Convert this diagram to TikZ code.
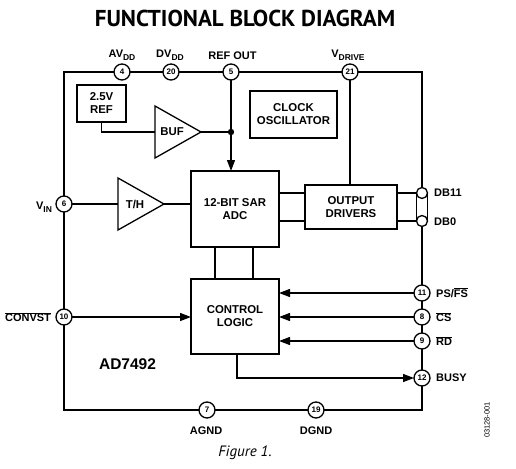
\documentclass[tikz,border=0pt]{standalone}
\usepackage{fontspec}
\setmainfont{Liberation Sans}
\newfontfamily\titlefont{PT Sans}
\usetikzlibrary{arrows.meta,calc}
\begin{document}
\begin{tikzpicture}[x=1pt,y=-1pt,
  ln/.style={line width=1.3pt},
  pin/.style={circle,draw,line width=1.3pt,fill=white,minimum size=16pt,inner sep=0pt,outer sep=0pt,font=\bfseries\fontsize{8}{8}\selectfont},
  buspin/.style={circle,draw,line width=1.3pt,fill=white,minimum size=11pt,inner sep=0pt,outer sep=0pt},
  blk/.style={draw,line width=1.3pt,align=center,inner sep=0pt,outer sep=0pt,font=\bfseries\fontsize{11.4}{13}\selectfont},
  lbl/.style={inner sep=0pt,font=\bfseries\fontsize{11}{12}\selectfont},
  arr/.style={ln,-{Triangle[length=11pt,width=8pt]}}
]
\useasboundingbox (0,0) rectangle (516,468);
% title
\node[inner sep=0pt,font=\titlefont\bfseries\fontsize{23}{26}\selectfont] (title) at (245,18) {FUNCTIONAL BLOCK DIAGRAM};
% frame
\draw[ln] (64,72) rectangle (422,410);
\fill[white] (416.5,193) rectangle (427.5,221);
% blocks
\node[blk,minimum width=49pt,minimum height=37pt] (ref) at (101.5,103.5) {2.5V\\REF};
\node[blk,minimum width=88pt,minimum height=76pt] (adc) at (235,209) {12-BIT SAR\\ADC};
\node[blk,minimum width=92pt,minimum height=44pt] (drv) at (351,207) {OUTPUT\\DRIVERS};
\node[blk,minimum width=88pt,minimum height=75pt] (ctl) at (235,316.5) {CONTROL\\LOGIC};
\node[blk,minimum width=87pt,minimum height=47pt] (clk) at (293.5,114.5) {CLOCK\\OSCILLATOR};
% amplifiers
\coordinate (bufin) at (155,132);
\coordinate (bufout) at (201,132);
\draw[ln,line join=miter] (155,106) -- (bufout) -- (155,158) -- cycle;
\node[lbl,font=\bfseries\fontsize{11.4}{13}\selectfont] (buftxt) at (172,132) {BUF};
\coordinate (thin) at (118,204);
\coordinate (thout) at (164,204);
\draw[ln,line join=miter] (118,178) -- (thout) -- (118,230) -- cycle;
\node[lbl,font=\bfseries\fontsize{11.4}{13}\selectfont] (thtxt) at (135,204) {T/H};
% pins
\node[pin] (p4) at (122,72) {4};
\node[pin] (p20) at (171,72) {20};
\node[pin] (p5) at (231,72) {5};
\node[pin] (p21) at (350,72) {21};
\node[pin] (p6) at (64,204) {6};
\node[pin] (p10) at (64,317) {10};
\node[pin] (p7) at (207,410) {7};
\node[pin] (p19) at (316,410) {19};
\node[pin] (p11) at (422,293) {11};
\node[pin] (p8) at (422,317) {8};
\node[pin] (p9) at (422,341) {9};
\node[pin] (p12) at (422,378) {12};
\node[buspin] (db11) at (422,193) {};
\node[buspin] (db0) at (422,221) {};
\draw[ln] (db11.west) -- (db0.west);
\draw[ln] (db11.east) -- (db0.east);
% connections
\draw[ln] (ref.south) |- (bufin);
\coordinate (j) at (p5.south |- bufout);
\draw[ln] (bufout) -- (j);
\fill (j) circle (3.2);
\draw[arr] (p5.south) -- (p5.south |- adc.north);
\draw[ln] (p6.east) -- (thin);
\draw[ln] (thout) -- (adc.west |- thout);
\draw[ln] (p21.south) -- (p21.south |- drv.north);
\draw[ln] (adc.east |- db11) -- (drv.west |- db11);
\draw[ln] (adc.east |- db0) -- (drv.west |- db0);
\draw[ln] (drv.east |- db11) -- (db11.west);
\draw[ln] (drv.east |- db0) -- (db0.west);
\draw[ln] ($(adc.south)+(-20,0)$) -- ($(ctl.north)+(-20,0)$);
\draw[ln] ($(adc.south)+(18,0)$) -- ($(ctl.north)+(18,0)$);
\draw[arr] (p10.east) -- (ctl.west |- p10);
\draw[arr] (p11.west) -- (ctl.east |- p11);
\draw[arr] (p8.west) -- (ctl.east |- p8);
\draw[arr] (p9.west) -- (ctl.east |- p9);
\draw[arr] ($(ctl.south)+(2,0)$) |- (p12.west);
% labels
\node[lbl] (lav) at (122,55) {AV\raisebox{-2.5pt}{\fontsize{8.5}{9}\selectfont DD}};
\node[lbl] (ldv) at (170,55) {DV\raisebox{-2.5pt}{\fontsize{8.5}{9}\selectfont DD}};
\node[lbl] (lref) at (232.5,55.5) {REF OUT};
\node[lbl] (lvd) at (348,55) {V\raisebox{-2.5pt}{\fontsize{8.5}{9}\selectfont DRIVE}};
\node[lbl] (lvin) at (44,207) {V\raisebox{-2.5pt}{\fontsize{8.5}{9}\selectfont IN}};
\node[lbl] (lconv) at (28,317) {$\overline{\mbox{CONVST}}$};
\node[lbl,anchor=west] (ldb11) at (434,193) {DB11};
\node[lbl,anchor=west] (ldb0) at (434,222) {DB0};
\node[lbl,anchor=west] (lps) at (436,293) {PS/$\overline{\mbox{FS}}$};
\node[lbl,anchor=west] (lcs) at (436,317) {$\overline{\mbox{CS}}$};
\node[lbl,anchor=west] (lrd) at (436,341) {$\overline{\mbox{RD}}$};
\node[lbl,anchor=west] (lbusy) at (436,378) {BUSY};
\node[lbl] (lagnd) at (206,431) {AGND};
\node[lbl] (ldgnd) at (316,431) {DGND};
\node[inner sep=0pt,font=\bfseries\fontsize{15.5}{17}\selectfont] (part) at (127.5,364) {AD7492};
\node[inner sep=0pt,font=\titlefont\itshape\fontsize{15}{17}\selectfont] (fig) at (245,453) {Figure 1.};
\node[inner sep=0pt,rotate=90,font=\fontsize{7.5}{8}\selectfont] (code) at (487,420) {03128-001};
\end{tikzpicture}
\end{document}
